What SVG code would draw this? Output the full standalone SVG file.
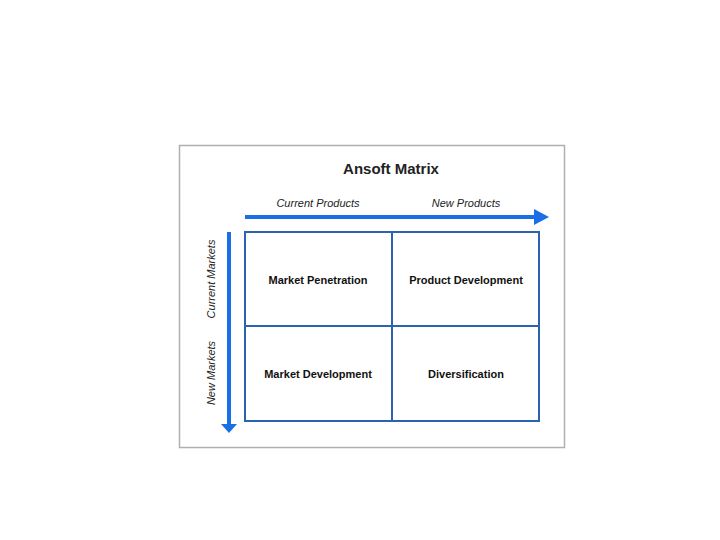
<svg xmlns="http://www.w3.org/2000/svg" width="720" height="540" viewBox="0 0 720 540">
<style>
.title{font-family:"Liberation Sans",Arial,sans-serif;font-size:15px;font-weight:bold;fill:#222;text-anchor:middle}
.axis{font-family:"Liberation Sans",Arial,sans-serif;font-size:11px;font-style:italic;fill:#222;text-anchor:middle}
.cell{font-family:"Liberation Sans",Arial,sans-serif;font-size:11px;font-weight:bold;fill:#111;text-anchor:middle}
.grid{fill:none;stroke:#2b63b0;stroke-width:2}
.arrow{stroke:#1b6fe6;stroke-width:4;fill:none}
.head{fill:#1b6fe6}
</style>
<rect width="720" height="540" fill="#fff"/>
<rect id="frame" x="179.5" y="145.5" width="385" height="302" fill="#fff" stroke="#b0b0b0" stroke-width="1.5"/>
<text class="title" x="391" y="174">Ansoft Matrix</text>
<g id="axis-labels">
<text class="axis" x="318" y="207">Current Products</text>
<text class="axis" x="466" y="207">New Products</text>
<text class="axis" transform="translate(215,279) rotate(-90)">Current Markets</text>
<text class="axis" transform="translate(215,373) rotate(-90)">New Markets</text>
</g>
<g id="connectors">
<line class="arrow" x1="245" y1="217" x2="535" y2="217"/>
<polygon class="head" points="534,209 549,217 534,225"/>
<line class="arrow" x1="229" y1="232" x2="229" y2="425"/>
<polygon class="head" points="221,424 229,433 237,424"/>
</g>
<g id="market-penetration">
<rect class="grid" x="245" y="232" width="147" height="94"/>
<text class="cell" x="318" y="284">Market Penetration</text>
</g>
<g id="product-development">
<rect class="grid" x="392" y="232" width="147" height="94"/>
<text class="cell" x="466" y="284">Product Development</text>
</g>
<g id="market-development">
<rect class="grid" x="245" y="326" width="147" height="95"/>
<text class="cell" x="318" y="378">Market Development</text>
</g>
<g id="diversification">
<rect class="grid" x="392" y="326" width="147" height="95"/>
<text class="cell" x="466" y="378">Diversification</text>
</g>
</svg>
